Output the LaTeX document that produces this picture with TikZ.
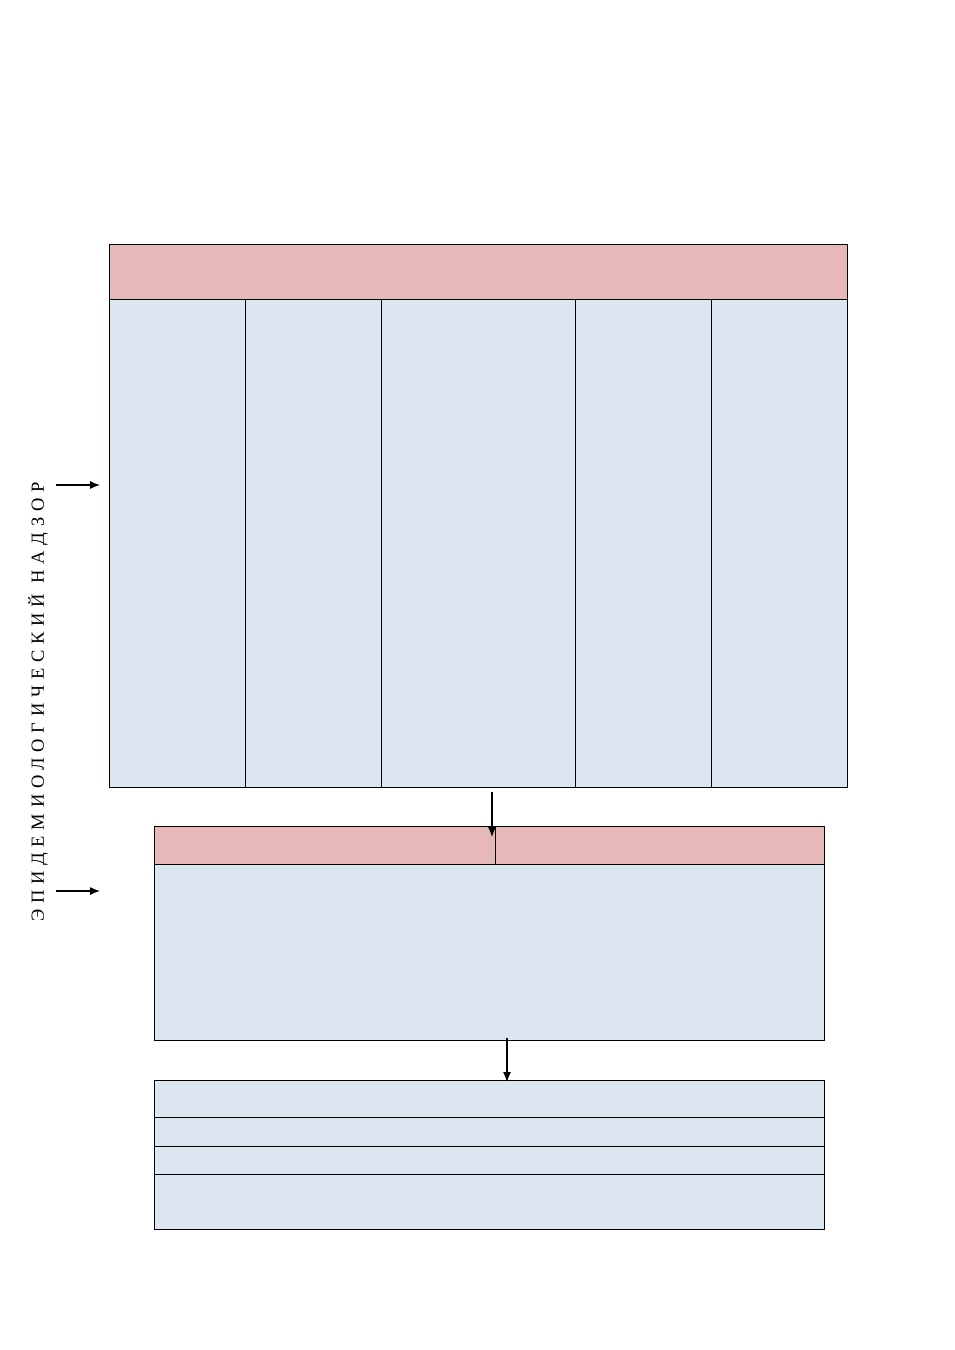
\documentclass[tikz,border=0pt]{standalone}
\usepackage{fontspec}
\setmainfont{Liberation Serif}
\usetikzlibrary{positioning,arrows.meta}
\definecolor{pinkhead}{HTML}{E6B8B7}
\definecolor{bluebody}{HTML}{DCE6F1}
\tikzset{cell/.style={draw,line width=1pt,inner sep=0pt,outer sep=0pt,anchor=north west},
  link/.style={line width=1.2pt,-{Latex[length=10pt,width=8pt]}}}

\begin{document}
\begin{tikzpicture}[x=1pt,y=-1pt]
\useasboundingbox (0,0) rectangle (954,1350);
% upper block
\node[cell,fill=pinkhead,minimum width=738pt,minimum height=55pt] (head) at (109,244) {};
\node[cell,fill=bluebody,minimum width=136pt,minimum height=488pt] (colA) at (head.south west) {};
\node[cell,fill=bluebody,minimum width=136pt,minimum height=488pt] (colB) at (colA.north east) {};
\node[cell,fill=bluebody,minimum width=194pt,minimum height=488pt] (colC) at (colB.north east) {};
\node[cell,fill=bluebody,minimum width=136pt,minimum height=488pt] (colD) at (colC.north east) {};
\node[cell,fill=bluebody,minimum width=136pt,minimum height=488pt] (colE) at (colD.north east) {};
% middle block
\node[cell,fill=pinkhead,minimum width=341pt,minimum height=38pt] (midL) at (154,826) {};
\node[cell,fill=pinkhead,minimum width=329pt,minimum height=38pt] (midR) at (midL.north east) {};
\node[cell,fill=bluebody,minimum width=670pt,minimum height=176pt] (midbody) at (midL.south west) {};
% lower block
\node[cell,fill=bluebody,minimum width=670pt,minimum height=37pt] (rowA) at (154,1080) {};
\node[cell,fill=bluebody,minimum width=670pt,minimum height=29pt] (rowB) at (rowA.south west) {};
\node[cell,fill=bluebody,minimum width=670pt,minimum height=28pt] (rowC) at (rowB.south west) {};
\node[cell,fill=bluebody,minimum width=670pt,minimum height=55pt] (rowD) at (rowC.south west) {};
% side label
\node[rotate=90,font=\fontsize{18.5}{20}\selectfont\addfontfeature{LetterSpace=31}] (nadzor) at (38,702) {ЭПИДЕМИОЛОГИЧЕСКИЙ НАДЗОР};
% arrows
\coordinate (fromTop) at (492,792);
\coordinate (toMid) at (492,837);
\coordinate (fromMid) at (507,1038);
\coordinate (toLow) at (507,1082);
\coordinate (sideA) at (56,485);
\coordinate (sideAend) at (100,485);
\coordinate (sideB) at (56,891);
\coordinate (sideBend) at (100,891);
\draw[link] (fromTop) -- (toMid);
\draw[link] (fromMid) -- (toLow);
\draw[link] (sideA) -- (sideAend);
\draw[link] (sideB) -- (sideBend);
\end{tikzpicture}
\end{document}
